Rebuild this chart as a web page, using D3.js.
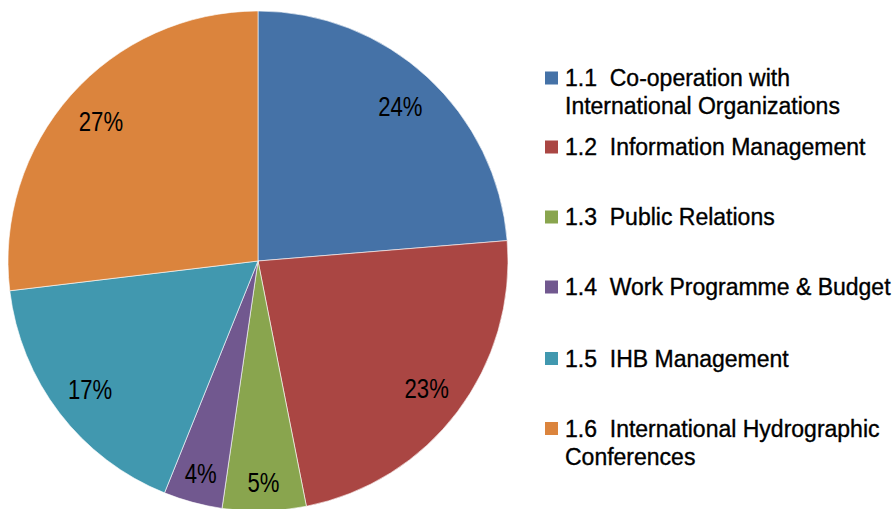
<!DOCTYPE html>
<html>
<head>
<meta charset="utf-8">
<script src="https://cdn.jsdelivr.net/npm/d3@7/dist/d3.min.js"></script>
<style>
  html, body { margin: 0; padding: 0; background: #fff; }
  svg { display: block; }
</style>
</head>
<body>
<svg id="chart" width="895" height="509"></svg>
<script>
// ---- data ----
const codes = ["1.1", "1.2", "1.3", "1.4", "1.5", "1.6"];
const categories = [
  ["Co-operation with", "International Organizations"],
  ["Information Management"],
  ["Public Relations"],
  ["Work Programme & Budget"],
  ["IHB Management"],
  ["International Hydrographic", "Conferences"]
];
const values = [23.7, 23.2, 5.4, 3.8, 17.0, 26.9];
const labels = ["24%", "23%", "5%", "4%", "17%", "27%"];

// ---- style ----
const colors = ["#4572A7", "#AA4643", "#89A54E", "#71588F", "#4198AF", "#DB843D"];
const FONT = "'Liberation Sans', Arial, sans-serif";

const svg = d3.select("#chart");
const cx = 258, cy = 261, R = 250;

const data = values.map((v, i) => ({ v, i }));
const pie = d3.pie().value(d => d.v).sort(null);
const arcs = pie(data);
const arc = d3.arc().innerRadius(0).outerRadius(R);

const g = svg.append("g").attr("transform", `translate(${cx},${cy})`);
g.selectAll("path.slice").data(arcs).enter().append("path")
  .attr("class", "slice")
  .attr("d", arc)
  .attr("fill", d => colors[d.data.i])
  .attr("stroke", "#ffffff")
  .attr("stroke-opacity", 0.6)
  .attr("stroke-width", 1);

// label radius: slightly farther out for slices pointing downward
function labelPos(d) {
  const a = (d.startAngle + d.endAngle) / 2;
  const down = Math.max(0, -Math.cos(a));
  const r = R * (0.84 + 0.044 * Math.pow(down, 4));
  return [r * Math.sin(a), -r * Math.cos(a)];
}

g.selectAll("text.lbl").data(arcs).enter().append("text")
  .attr("class", "lbl")
  .attr("transform", d => `translate(${labelPos(d)}) scale(0.82,1)`)
  .attr("text-anchor", "middle")
  .attr("dy", "0.36em")
  .attr("font-family", FONT)
  .attr("font-size", 27)
  .attr("fill", "#000")
  .text(d => labels[d.data.i]);

// ---- legend ----
const baselines = [86, 155, 225, 295, 366.5, 436.5];
const lineGap = 28;
const leg = svg.append("g");
categories.forEach((lines, i) => {
  const by = baselines[i];
  leg.append("rect")
    .attr("x", 545).attr("y", by - 14.5)
    .attr("width", 13).attr("height", 13)
    .attr("fill", colors[i]);
  const t = leg.append("text")
    .attr("font-family", FONT)
    .attr("font-size", 23)
    .attr("fill", "#000")
    .attr("stroke", "#000")
    .attr("stroke-width", 0.35);
  lines.forEach((ln, k) => {
    t.append("tspan")
      .attr("x", 565)
      .attr("y", by + k * lineGap)
      .text(k === 0 ? codes[i] + "\u00A0\u00A0" + ln : ln);
  });
});
</script>
</body>
</html>
